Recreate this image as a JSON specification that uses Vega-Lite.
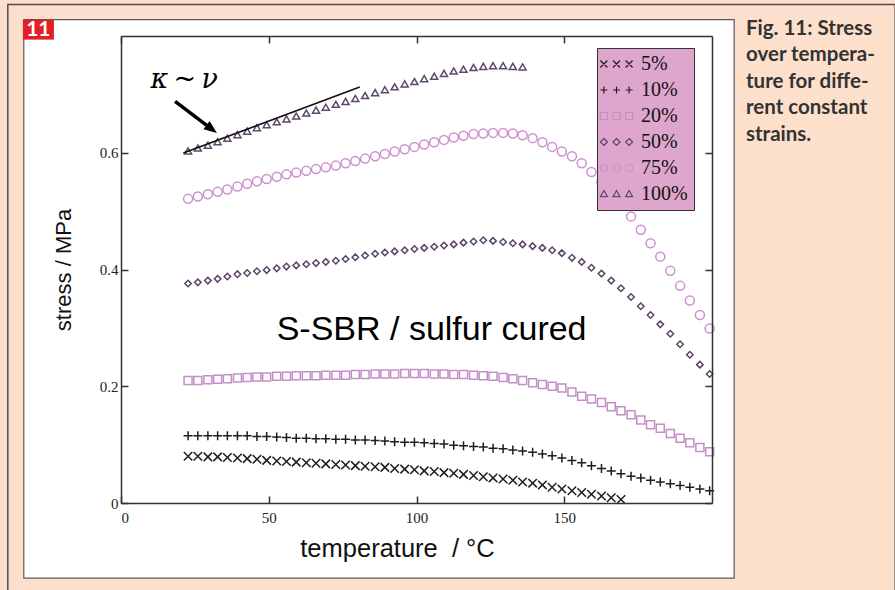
{
"$schema": "https://vega.github.io/schema/vega-lite/v6.json",
"width": 591, "height": 467,
"autosize": {"type": "none"},
"padding": {"left": 121, "top": 36, "right": 183, "bottom": 87},
"background": "#fde0cc",
"config": {
  "view": {"stroke": null},
  "axis": {"zindex": 1, "grid": false, "domainColor": "#333", "domainWidth": 1.5, "tickColor": "#333", "tickWidth": 1.5, "tickSize": -7,
    "labelFont": "Liberation Serif", "labelFontSize": 15, "labelColor": "#222",
    "titleFont": "Liberation Sans", "titleFontSize": 22, "titleFontWeight": "normal", "titleColor": "#111"}
},
"datasets": {
"pts": [
{"k":"5%","T":22.7,"s":0.080},{"k":"5%","T":26.0,"s":0.080},{"k":"5%","T":29.4,"s":0.079},{"k":"5%","T":32.7,"s":0.079},{"k":"5%","T":36.0,"s":0.078},{"k":"5%","T":39.4,"s":0.077},{"k":"5%","T":42.7,"s":0.076},{"k":"5%","T":46.0,"s":0.075},{"k":"5%","T":49.3,"s":0.073},{"k":"5%","T":52.7,"s":0.072},{"k":"5%","T":56.0,"s":0.071},{"k":"5%","T":59.3,"s":0.070},{"k":"5%","T":62.7,"s":0.069},{"k":"5%","T":66.0,"s":0.068},{"k":"5%","T":69.3,"s":0.067},{"k":"5%","T":72.7,"s":0.066},{"k":"5%","T":76.0,"s":0.065},{"k":"5%","T":79.3,"s":0.064},{"k":"5%","T":82.6,"s":0.063},{"k":"5%","T":86.0,"s":0.062},{"k":"5%","T":89.3,"s":0.061},{"k":"5%","T":92.6,"s":0.059},{"k":"5%","T":96.0,"s":0.058},{"k":"5%","T":99.3,"s":0.057},{"k":"5%","T":102.6,"s":0.055},{"k":"5%","T":106.0,"s":0.054},{"k":"5%","T":109.3,"s":0.052},{"k":"5%","T":112.6,"s":0.051},{"k":"5%","T":115.9,"s":0.049},{"k":"5%","T":119.3,"s":0.047},{"k":"5%","T":122.6,"s":0.045},{"k":"5%","T":125.9,"s":0.043},{"k":"5%","T":129.3,"s":0.041},{"k":"5%","T":132.6,"s":0.039},{"k":"5%","T":135.9,"s":0.036},{"k":"5%","T":139.3,"s":0.034},{"k":"5%","T":142.6,"s":0.031},{"k":"5%","T":145.9,"s":0.027},{"k":"5%","T":149.2,"s":0.024},{"k":"5%","T":152.6,"s":0.021},{"k":"5%","T":155.9,"s":0.018},{"k":"5%","T":159.2,"s":0.015},{"k":"5%","T":162.6,"s":0.012},{"k":"5%","T":165.9,"s":0.009},{"k":"5%","T":169.2,"s":0.006},
{"k":"10%","T":22.7,"s":0.115},{"k":"10%","T":26.0,"s":0.115},{"k":"10%","T":29.4,"s":0.115},{"k":"10%","T":32.7,"s":0.115},{"k":"10%","T":36.0,"s":0.115},{"k":"10%","T":39.4,"s":0.115},{"k":"10%","T":42.7,"s":0.115},{"k":"10%","T":46.0,"s":0.114},{"k":"10%","T":49.3,"s":0.114},{"k":"10%","T":52.7,"s":0.113},{"k":"10%","T":56.0,"s":0.112},{"k":"10%","T":59.3,"s":0.111},{"k":"10%","T":62.7,"s":0.111},{"k":"10%","T":66.0,"s":0.110},{"k":"10%","T":69.3,"s":0.110},{"k":"10%","T":72.7,"s":0.109},{"k":"10%","T":76.0,"s":0.109},{"k":"10%","T":79.3,"s":0.108},{"k":"10%","T":82.6,"s":0.108},{"k":"10%","T":86.0,"s":0.107},{"k":"10%","T":89.3,"s":0.106},{"k":"10%","T":92.6,"s":0.105},{"k":"10%","T":96.0,"s":0.104},{"k":"10%","T":99.3,"s":0.104},{"k":"10%","T":102.6,"s":0.103},{"k":"10%","T":106.0,"s":0.102},{"k":"10%","T":109.3,"s":0.101},{"k":"10%","T":112.6,"s":0.099},{"k":"10%","T":115.9,"s":0.098},{"k":"10%","T":119.3,"s":0.097},{"k":"10%","T":122.6,"s":0.096},{"k":"10%","T":125.9,"s":0.094},{"k":"10%","T":129.3,"s":0.093},{"k":"10%","T":132.6,"s":0.091},{"k":"10%","T":135.9,"s":0.089},{"k":"10%","T":139.3,"s":0.087},{"k":"10%","T":142.6,"s":0.084},{"k":"10%","T":145.9,"s":0.081},{"k":"10%","T":149.2,"s":0.077},{"k":"10%","T":152.6,"s":0.073},{"k":"10%","T":155.9,"s":0.069},{"k":"10%","T":159.2,"s":0.064},{"k":"10%","T":162.6,"s":0.059},{"k":"10%","T":165.9,"s":0.055},{"k":"10%","T":169.2,"s":0.050},{"k":"10%","T":172.6,"s":0.046},{"k":"10%","T":175.9,"s":0.043},{"k":"10%","T":179.2,"s":0.039},{"k":"10%","T":182.5,"s":0.036},{"k":"10%","T":185.9,"s":0.033},{"k":"10%","T":189.2,"s":0.030},{"k":"10%","T":192.5,"s":0.027},{"k":"10%","T":195.9,"s":0.024},{"k":"10%","T":199.2,"s":0.021},
{"k":"20%","T":22.7,"s":0.210},{"k":"20%","T":26.0,"s":0.210},{"k":"20%","T":29.4,"s":0.211},{"k":"20%","T":32.7,"s":0.212},{"k":"20%","T":36.0,"s":0.213},{"k":"20%","T":39.4,"s":0.214},{"k":"20%","T":42.7,"s":0.215},{"k":"20%","T":46.0,"s":0.216},{"k":"20%","T":49.3,"s":0.216},{"k":"20%","T":52.7,"s":0.217},{"k":"20%","T":56.0,"s":0.217},{"k":"20%","T":59.3,"s":0.218},{"k":"20%","T":62.7,"s":0.218},{"k":"20%","T":66.0,"s":0.218},{"k":"20%","T":69.3,"s":0.219},{"k":"20%","T":72.7,"s":0.219},{"k":"20%","T":76.0,"s":0.219},{"k":"20%","T":79.3,"s":0.220},{"k":"20%","T":82.6,"s":0.220},{"k":"20%","T":86.0,"s":0.221},{"k":"20%","T":89.3,"s":0.221},{"k":"20%","T":92.6,"s":0.221},{"k":"20%","T":96.0,"s":0.222},{"k":"20%","T":99.3,"s":0.222},{"k":"20%","T":102.6,"s":0.222},{"k":"20%","T":106.0,"s":0.221},{"k":"20%","T":109.3,"s":0.221},{"k":"20%","T":112.6,"s":0.220},{"k":"20%","T":115.9,"s":0.220},{"k":"20%","T":119.3,"s":0.219},{"k":"20%","T":122.6,"s":0.218},{"k":"20%","T":125.9,"s":0.217},{"k":"20%","T":129.3,"s":0.215},{"k":"20%","T":132.6,"s":0.213},{"k":"20%","T":135.9,"s":0.210},{"k":"20%","T":139.3,"s":0.206},{"k":"20%","T":142.6,"s":0.203},{"k":"20%","T":145.9,"s":0.200},{"k":"20%","T":149.2,"s":0.197},{"k":"20%","T":152.6,"s":0.190},{"k":"20%","T":155.9,"s":0.183},{"k":"20%","T":159.2,"s":0.178},{"k":"20%","T":162.6,"s":0.172},{"k":"20%","T":165.9,"s":0.165},{"k":"20%","T":169.2,"s":0.158},{"k":"20%","T":172.6,"s":0.151},{"k":"20%","T":175.9,"s":0.142},{"k":"20%","T":179.2,"s":0.134},{"k":"20%","T":182.5,"s":0.128},{"k":"20%","T":185.9,"s":0.119},{"k":"20%","T":189.2,"s":0.111},{"k":"20%","T":192.5,"s":0.103},{"k":"20%","T":195.9,"s":0.095},{"k":"20%","T":199.2,"s":0.088},
{"k":"50%","T":22.7,"s":0.376},{"k":"50%","T":26.0,"s":0.378},{"k":"50%","T":29.4,"s":0.381},{"k":"50%","T":32.7,"s":0.384},{"k":"50%","T":36.0,"s":0.388},{"k":"50%","T":39.4,"s":0.392},{"k":"50%","T":42.7,"s":0.394},{"k":"50%","T":46.0,"s":0.397},{"k":"50%","T":49.3,"s":0.399},{"k":"50%","T":52.7,"s":0.402},{"k":"50%","T":56.0,"s":0.405},{"k":"50%","T":59.3,"s":0.407},{"k":"50%","T":62.7,"s":0.409},{"k":"50%","T":66.0,"s":0.411},{"k":"50%","T":69.3,"s":0.413},{"k":"50%","T":72.7,"s":0.415},{"k":"50%","T":76.0,"s":0.418},{"k":"50%","T":79.3,"s":0.421},{"k":"50%","T":82.6,"s":0.424},{"k":"50%","T":86.0,"s":0.427},{"k":"50%","T":89.3,"s":0.429},{"k":"50%","T":92.6,"s":0.431},{"k":"50%","T":96.0,"s":0.433},{"k":"50%","T":99.3,"s":0.435},{"k":"50%","T":102.6,"s":0.437},{"k":"50%","T":106.0,"s":0.439},{"k":"50%","T":109.3,"s":0.441},{"k":"50%","T":112.6,"s":0.443},{"k":"50%","T":115.9,"s":0.446},{"k":"50%","T":119.3,"s":0.448},{"k":"50%","T":122.6,"s":0.450},{"k":"50%","T":125.9,"s":0.449},{"k":"50%","T":129.3,"s":0.447},{"k":"50%","T":132.6,"s":0.445},{"k":"50%","T":135.9,"s":0.443},{"k":"50%","T":139.3,"s":0.440},{"k":"50%","T":142.6,"s":0.437},{"k":"50%","T":145.9,"s":0.433},{"k":"50%","T":149.2,"s":0.428},{"k":"50%","T":152.6,"s":0.420},{"k":"50%","T":155.9,"s":0.413},{"k":"50%","T":159.2,"s":0.403},{"k":"50%","T":162.6,"s":0.393},{"k":"50%","T":165.9,"s":0.381},{"k":"50%","T":169.2,"s":0.368},{"k":"50%","T":172.6,"s":0.353},{"k":"50%","T":175.9,"s":0.337},{"k":"50%","T":179.2,"s":0.322},{"k":"50%","T":182.5,"s":0.306},{"k":"50%","T":185.9,"s":0.290},{"k":"50%","T":189.2,"s":0.272},{"k":"50%","T":192.5,"s":0.254},{"k":"50%","T":195.9,"s":0.237},{"k":"50%","T":199.2,"s":0.221},
{"k":"75%","T":22.7,"s":0.521},{"k":"75%","T":26.0,"s":0.525},{"k":"75%","T":29.4,"s":0.529},{"k":"75%","T":32.7,"s":0.533},{"k":"75%","T":36.0,"s":0.537},{"k":"75%","T":39.4,"s":0.542},{"k":"75%","T":42.7,"s":0.547},{"k":"75%","T":46.0,"s":0.551},{"k":"75%","T":49.3,"s":0.555},{"k":"75%","T":52.7,"s":0.559},{"k":"75%","T":56.0,"s":0.563},{"k":"75%","T":59.3,"s":0.566},{"k":"75%","T":62.7,"s":0.569},{"k":"75%","T":66.0,"s":0.572},{"k":"75%","T":69.3,"s":0.575},{"k":"75%","T":72.7,"s":0.578},{"k":"75%","T":76.0,"s":0.582},{"k":"75%","T":79.3,"s":0.586},{"k":"75%","T":82.6,"s":0.590},{"k":"75%","T":86.0,"s":0.594},{"k":"75%","T":89.3,"s":0.598},{"k":"75%","T":92.6,"s":0.602},{"k":"75%","T":96.0,"s":0.606},{"k":"75%","T":99.3,"s":0.610},{"k":"75%","T":102.6,"s":0.614},{"k":"75%","T":106.0,"s":0.618},{"k":"75%","T":109.3,"s":0.622},{"k":"75%","T":112.6,"s":0.626},{"k":"75%","T":115.9,"s":0.629},{"k":"75%","T":119.3,"s":0.632},{"k":"75%","T":122.6,"s":0.633},{"k":"75%","T":125.9,"s":0.634},{"k":"75%","T":129.3,"s":0.634},{"k":"75%","T":132.6,"s":0.633},{"k":"75%","T":135.9,"s":0.630},{"k":"75%","T":139.3,"s":0.625},{"k":"75%","T":142.6,"s":0.618},{"k":"75%","T":145.9,"s":0.610},{"k":"75%","T":149.2,"s":0.602},{"k":"75%","T":152.6,"s":0.594},{"k":"75%","T":155.9,"s":0.582},{"k":"75%","T":159.2,"s":0.567},{"k":"75%","T":162.6,"s":0.550},{"k":"75%","T":165.9,"s":0.531},{"k":"75%","T":169.2,"s":0.511},{"k":"75%","T":172.6,"s":0.491},{"k":"75%","T":175.9,"s":0.468},{"k":"75%","T":179.2,"s":0.445},{"k":"75%","T":182.5,"s":0.422},{"k":"75%","T":185.9,"s":0.398},{"k":"75%","T":189.2,"s":0.372},{"k":"75%","T":192.5,"s":0.347},{"k":"75%","T":195.9,"s":0.322},{"k":"75%","T":199.2,"s":0.299},
{"k":"100%","T":22.7,"s":0.603},{"k":"100%","T":26.0,"s":0.608},{"k":"100%","T":29.4,"s":0.613},{"k":"100%","T":32.7,"s":0.619},{"k":"100%","T":36.0,"s":0.625},{"k":"100%","T":39.4,"s":0.631},{"k":"100%","T":42.7,"s":0.637},{"k":"100%","T":46.0,"s":0.643},{"k":"100%","T":49.3,"s":0.648},{"k":"100%","T":52.7,"s":0.653},{"k":"100%","T":56.0,"s":0.658},{"k":"100%","T":59.3,"s":0.663},{"k":"100%","T":62.7,"s":0.668},{"k":"100%","T":66.0,"s":0.673},{"k":"100%","T":69.3,"s":0.678},{"k":"100%","T":72.7,"s":0.683},{"k":"100%","T":76.0,"s":0.688},{"k":"100%","T":79.3,"s":0.693},{"k":"100%","T":82.6,"s":0.698},{"k":"100%","T":86.0,"s":0.703},{"k":"100%","T":89.3,"s":0.708},{"k":"100%","T":92.6,"s":0.713},{"k":"100%","T":96.0,"s":0.718},{"k":"100%","T":99.3,"s":0.722},{"k":"100%","T":102.6,"s":0.727},{"k":"100%","T":106.0,"s":0.731},{"k":"100%","T":109.3,"s":0.736},{"k":"100%","T":112.6,"s":0.740},{"k":"100%","T":115.9,"s":0.743},{"k":"100%","T":119.3,"s":0.746},{"k":"100%","T":122.6,"s":0.748},{"k":"100%","T":125.9,"s":0.749},{"k":"100%","T":129.3,"s":0.749},{"k":"100%","T":132.6,"s":0.748},{"k":"100%","T":135.9,"s":0.747}
]
},
"layer": [
  {"data": {"values": [{"x0": -38.3, "x1": 262.0, "y0": 0.8538, "y1": -0.2}]},
   "mark": {"type": "rect", "fill": "transparent", "stroke": "#4d4d4d", "strokeWidth": 1.5, "clip": false},
   "encoding": {"x": {"field": "x0", "type": "quantitative", "scale": {"domain": [0, 200], "nice": false}, "axis": null}, "x2": {"field": "x1"},
                "y": {"field": "y0", "type": "quantitative", "scale": {"domain": [0, 0.8], "nice": false}, "axis": null}, "y2": {"field": "y1"}}},
  {"data": {"values": [{"x0": -32.9, "x1": 207.5, "y0": 0.828, "y1": -0.1286}]},
   "mark": {"type": "rect", "fill": "#ffffff", "stroke": "#5a5a5a", "strokeWidth": 1.2, "clip": false},
   "encoding": {"x": {"field": "x0", "type": "quantitative", "scale": {"domain": [0, 200], "nice": false}, "axis": null}, "x2": {"field": "x1"},
                "y": {"field": "y0", "type": "quantitative", "scale": {"domain": [0, 0.8], "nice": false}, "axis": null}, "y2": {"field": "y1"}}},
  {"data": {"values": [{"x0": -33.2, "x1": -22.7, "y0": 0.828, "y1": 0.7938}]},
   "mark": {"type": "rect", "fill": "#e31f26", "clip": false},
   "encoding": {"x": {"field": "x0", "type": "quantitative", "scale": {"domain": [0, 200], "nice": false}, "axis": null}, "x2": {"field": "x1"},
                "y": {"field": "y0", "type": "quantitative", "scale": {"domain": [0, 0.8], "nice": false}, "axis": null}, "y2": {"field": "y1"}}},
  {"data": {"values": [{"x": -27.97, "y": 0.8109, "t": "11"}]},
   "mark": {"type": "text", "font": "Lato", "fontWeight": "bold", "fontSize": 21, "color": "#ffffff", "align": "center", "baseline": "middle", "clip": false},
   "encoding": {"x": {"field": "x", "type": "quantitative", "scale": {"domain": [0, 200], "nice": false}, "axis": null},
                "y": {"field": "y", "type": "quantitative", "scale": {"domain": [0, 0.8], "nice": false}, "axis": null}, "text": {"field": "t"}}},
  {"data": {"values": [{"x": 211.5, "y": 0.8023, "t": "Fig. 11: Stress\nover tempera-\nture for diffe-\nrent constant\nstrains."}]},
   "mark": {"type": "text", "font": "Lato", "fontWeight": "bold", "fontSize": 20.5, "color": "#333333", "align": "left", "baseline": "alphabetic", "lineBreak": "\n", "lineHeight": 26.5, "clip": false},
   "encoding": {"x": {"field": "x", "type": "quantitative", "scale": {"domain": [0, 200], "nice": false}, "axis": null},
                "y": {"field": "y", "type": "quantitative", "scale": {"domain": [0, 0.8], "nice": false}, "axis": null}, "text": {"field": "t"}}},
  {"data": {"name": "pts"},
   "mark": {"type": "point", "filled": false, "strokeWidth": 1.5, "opacity": 1},
   "encoding": {
     "x": {"field": "T", "type": "quantitative", "scale": {"domain": [0, 200], "nice": false},
           "axis": {"orient": "bottom", "zindex": 2, "values": [0, 50, 100, 150], "labelFlush": true, "labelFontSize": 15, "labelPadding": 14, "title": "temperature\u00a0\u00a0/ °C", "titleFontSize": 25.5, "titleX": 276, "titleY": 53, "titleBaseline": "alphabetic", "titleAlign": "center"}},
     "y": {"field": "s", "type": "quantitative", "scale": {"domain": [0, 0.8], "nice": false},
           "axis": {"orient": "left", "zindex": 2, "values": [0, 0.2, 0.4, 0.6], "format": "~g", "labelFlush": false, "labelFontSize": 15, "labelPadding": 10, "title": "stress / MPa", "titleFontSize": 22, "titleX": -51, "titleY": 233.5, "titleBaseline": "alphabetic", "titleAlign": "center", "titleAngle": 270}},
     "color": {"field": "k", "type": "nominal",
       "scale": {"domain": ["5%", "10%", "20%", "50%", "75%", "100%"], "range": ["#1e1e1e", "#1e1e1e", "#c48ec8", "#5b4565", "#cf8fd0", "#5e4a6a"]},
       "legend": {"title": null, "orient": "none", "legendX": 476, "legendY": 12, "fillColor": "#dfa6cd", "strokeColor": "#333333", "padding": 6, "rowPadding": 6,
                  "labelFont": "Liberation Serif", "labelFontSize": 20, "labelColor": "#111111", "labelAlign": "left", "labelOffset": 18, "symbolSize": 49, "symbolStrokeWidth": 1.2, "symbolOffset": 0, "symbolFillColor": "transparent",
                  "encoding": {"symbols": {"shape": {"value": {"expr": "datum.value === '5%' ? 'M-3.6,-1L-1.6,1M-3.6,1L-1.6,-1M0,-1L2,1M0,1L2,-1M3.6,-1L5.6,1M3.6,1L5.6,-1' : datum.value === '10%' ? 'M-3.6,0L-1.6,0M-2.6,-1L-2.6,1M0,0L2,0M1,-1L1,1M3.6,0L5.6,0M4.6,-1L4.6,1' : datum.value === '20%' ? 'M-3.6,-1L-1.6,-1L-1.6,1L-3.6,1ZM0,-1L2,-1L2,1L0,1ZM3.6,-1L5.6,-1L5.6,1L3.6,1Z' : datum.value === '50%' ? 'M-2.6,-1L-1.6,0L-2.6,1L-3.6,0ZM1,-1L2,0L1,1L0,0ZM4.6,-1L5.6,0L4.6,1L3.6,0Z' : datum.value === '75%' ? 'M-1.6,0A1,1,0,1,1,-3.6,0A1,1,0,1,1,-1.6,0ZM2,0A1,1,0,1,1,0,0A1,1,0,1,1,2,0ZM5.6,0A1,1,0,1,1,3.6,0A1,1,0,1,1,5.6,0Z' : 'M-2.6,-1L-1.6,0.75L-3.6,0.75ZM1,-1L2,0.75L0,0.75ZM4.6,-1L5.6,0.75L3.6,0.75Z'"}}}}}},
     "shape": {"field": "k", "type": "nominal", "legend": null,
       "scale": {"domain": ["100%", "75%", "50%", "20%", "10%", "5%"], "range": ["triangle-up", "circle", "diamond", "square", "M-1,0L1,0M0,-1L0,1", "M-1,-1L1,1M-1,1L1,-1"]}},
     "size": {"field": "k", "type": "ordinal", "legend": null,
       "scale": {"type": "ordinal", "domain": ["50%", "100%", "75%", "20%", "10%", "5%"], "range": [42, 49, 81, 64, 81, 72]}}
   }},
  {"data": {"values": [{"x": 21.1, "y": 0.5995}, {"x": 80.8, "y": 0.7127}]},
   "mark": {"type": "line", "color": "#111111", "strokeWidth": 1.6},
   "encoding": {"x": {"field": "x", "type": "quantitative", "scale": {"domain": [0, 200], "nice": false},
                      "axis": {"orient": "top", "zindex": 2, "labels": false, "title": null, "values": [0, 50, 100, 150]}},
                "y": {"field": "y", "type": "quantitative", "scale": {"domain": [0, 0.8], "nice": false},
                      "axis": {"orient": "right", "zindex": 2, "labels": false, "title": null, "values": [0, 0.2, 0.4, 0.6]}}}},
  {"data": {"values": [{"x": 18.3, "y": 0.688}, {"x": 29.8, "y": 0.6438}]},
   "mark": {"type": "line", "color": "#000000", "strokeWidth": 3.5},
   "encoding": {"x": {"field": "x", "type": "quantitative", "scale": {"domain": [0, 200], "nice": false}, "axis": null},
                "y": {"field": "y", "type": "quantitative", "scale": {"domain": [0, 0.8], "nice": false}, "axis": null}}},
  {"data": {"values": [{"x": 30.7, "y": 0.6405}]},
   "mark": {"type": "point", "shape": "M1,0L-1,-0.8L-1,0.8Z", "filled": true, "color": "#000000", "opacity": 1, "size": 169, "angle": 37},
   "encoding": {"x": {"field": "x", "type": "quantitative", "scale": {"domain": [0, 200], "nice": false}, "axis": null},
                "y": {"field": "y", "type": "quantitative", "scale": {"domain": [0, 0.8], "nice": false}, "axis": null}}},
  {"data": {"values": [{"x": 21.4, "y": 0.711, "t": "κ\u2009~\u2009ν"}]},
   "mark": {"type": "text", "font": "DejaVu Serif", "fontStyle": "italic", "fontSize": 27, "color": "#000000", "align": "center", "baseline": "alphabetic"},
   "encoding": {"x": {"field": "x", "type": "quantitative", "scale": {"domain": [0, 200], "nice": false}, "axis": null},
                "y": {"field": "y", "type": "quantitative", "scale": {"domain": [0, 0.8], "nice": false}, "axis": null}, "text": {"field": "t"}}},
  {"data": {"values": [{"x": 105.1, "y": 0.2795, "t": "S-SBR / sulfur cured"}]},
   "mark": {"type": "text", "font": "Liberation Sans", "fontSize": 34, "color": "#000000", "align": "center", "baseline": "alphabetic"},
   "encoding": {"x": {"field": "x", "type": "quantitative", "scale": {"domain": [0, 200], "nice": false}, "axis": null},
                "y": {"field": "y", "type": "quantitative", "scale": {"domain": [0, 0.8], "nice": false}, "axis": null}, "text": {"field": "t"}}}
],
"resolve": {"axis": {"x": "independent", "y": "independent"}}
}
